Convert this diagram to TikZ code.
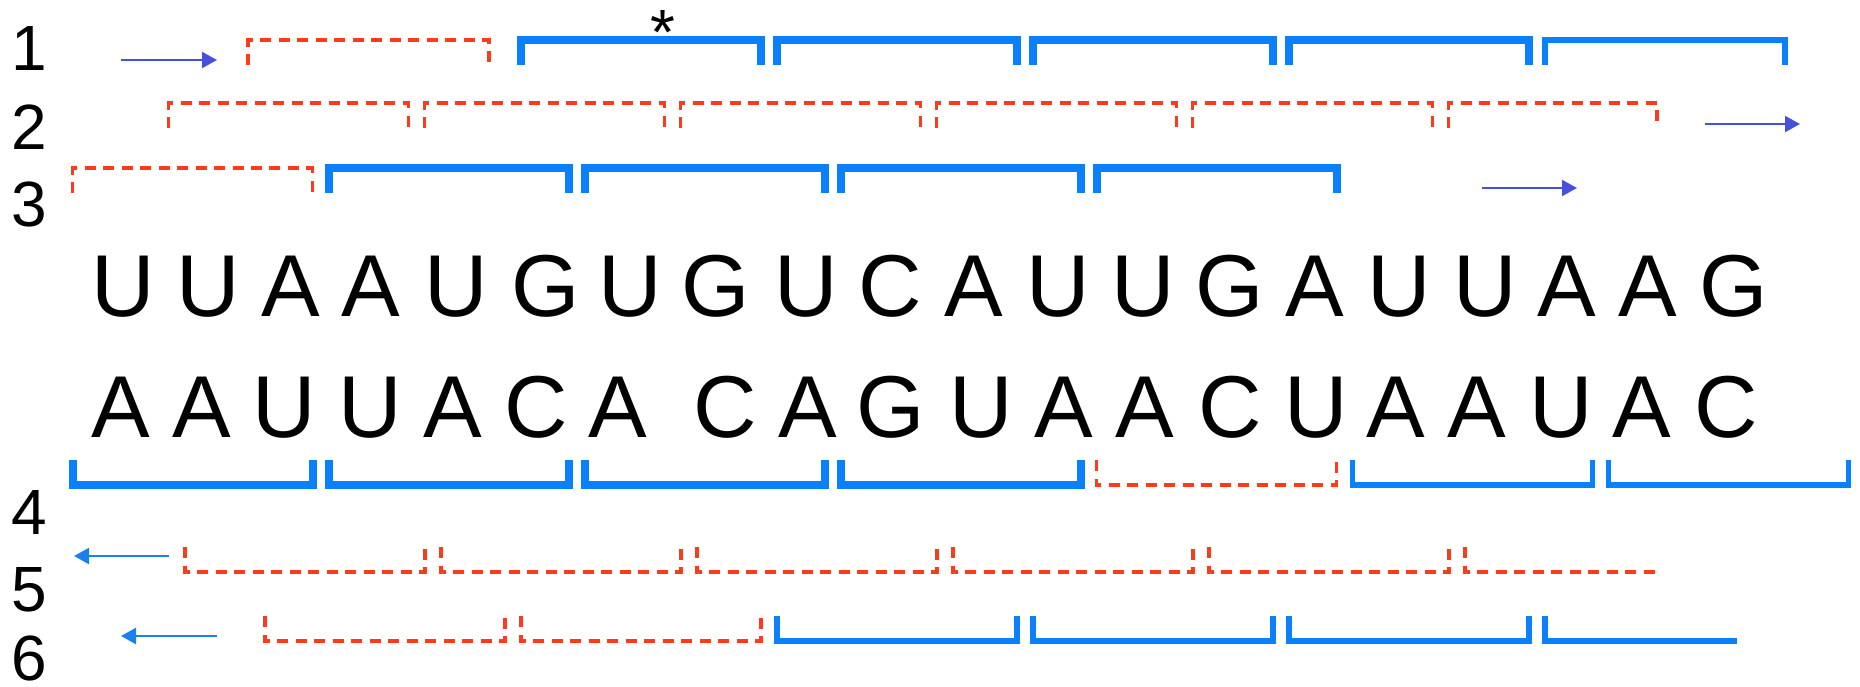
\documentclass[tikz,border=0pt]{standalone}
\usepackage{fontspec}
\setmainfont{Liberation Sans}
\usetikzlibrary{arrows.meta}
\definecolor{codonblue}{HTML}{0A80FF}
\definecolor{stopred}{HTML}{FF3A1A}
\definecolor{arrowindigo}{HTML}{4750DA}
\definecolor{arrowblue}{HTML}{1A80EE}

\begin{document}
\begin{tikzpicture}[x=0.1mm, y=-0.1mm,
    nuc/.style={inner sep=0pt, anchor=base, font=\fontsize{25pt}{30pt}\selectfont},
    framelabel/.style={inner sep=0pt, anchor=base west, font=\fontsize{18.2pt}{22pt}\selectfont},
    openframe/.style={draw=codonblue, line width=0.8mm, line cap=butt, line join=miter},
    openframethin/.style={openframe, line width=0.58mm},
    stopframe/.style={draw=stopred, line width=0.32mm, dash pattern=on 1.1mm off 0.75mm},
    fwd/.style={-{Triangle[length=1.5mm,width=1.6mm]}, draw=arrowindigo, line width=0.22mm},
    rev/.style={-{Triangle[length=1.5mm,width=1.6mm]}, draw=arrowblue, line width=0.22mm}
]
\useasboundingbox (0,0) rectangle (1860,686);

% frame numbers
\node[framelabel] (f1) at (11,70) {1};
\node[framelabel] (f2) at (11,149) {2};
\node[framelabel] (f3) at (11,226) {3};
\node[framelabel] (f4) at (11,534) {4};
\node[framelabel] (f5) at (11,611) {5};
\node[framelabel] (f6) at (11,680) {6};

% the two strands
\foreach \x/\ch [count=\i from 0] in {123/U,208/U,291/A,371/A,456/U,546/G,630/U,716/G,806/U,890/C,
    974/A,1058/U,1143/U,1230/G,1315/A,1399/U,1485/U,1567/A,1648/A,1734/G}
    \node[nuc] (top\i) at (\x,316) {\ch};
\foreach \x/\ch [count=\i from 0] in {121/A,202/A,284/U,370/U,453/A,536/C,618/A,725/C,808/A,891/G,
    981/U,1064/A,1145/A,1230/C,1316/U,1396/A,1477/A,1561/U,1642/A,1726/C}
    \node[nuc] (bot\i) at (\x,437) {\ch};

\node[framelabel, anchor=base] (star) at (663,54) {*};

% frame 1
\draw[stopframe] (248,65) -- (248,40) -- (489,40) -- (489,65);
\foreach \s in {521,777,1033,1289}
    \draw[openframe] (\s,65) -- (\s,40) -- ({\s+240},40) -- ({\s+240},65);
\draw[openframethin] (1545,65) -- (1545,40) -- (1785,40) -- (1785,65);

% frame 2
\foreach \s in {168.5,424.5,680.5,936.5,1192.5}
    \draw[stopframe] (\s,128) -- (\s,103) -- ({\s+240},103) -- ({\s+240},128);
\draw[stopframe] (1448.5,128) -- (1448.5,103) -- (1657,103) -- (1657,128);

% frame 3
\draw[stopframe] (72.5,193) -- (72.5,168) -- (312.5,168) -- (312.5,193);
\foreach \s in {328.5,584.5,840.5,1096.5}
    \draw[openframe] (\s,193) -- (\s,168) -- ({\s+240},168) -- ({\s+240},193);

% frame 4
\foreach \s in {72.5,328.5,584.5,840.5}
    \draw[openframe] (\s,460) -- (\s,485) -- ({\s+240},485) -- ({\s+240},460);
\draw[stopframe] (1096.5,460) -- (1096.5,485) -- (1336.5,485) -- (1336.5,460);
\foreach \s in {1352.5,1608.5}
    \draw[openframethin] (\s,460) -- (\s,485) -- ({\s+240},485) -- ({\s+240},460);

% frame 5
\foreach \s in {185,441,697,953,1209}
    \draw[stopframe] (\s,547) -- (\s,572) -- ({\s+240},572) -- ({\s+240},547);
\draw[stopframe] (1465,547) -- (1465,572) -- (1655,572);

% frame 6
\foreach \s in {265,521}
    \draw[stopframe] (\s,616) -- (\s,641) -- ({\s+240},641) -- ({\s+240},616);
\foreach \s in {777,1033,1289}
    \draw[openframethin] (\s,616) -- (\s,641) -- ({\s+240},641) -- ({\s+240},616);
\draw[openframethin] (1545,616) -- (1545,641) -- (1737,641);

% reading directions
\coordinate (d1a) at (121,60);   \coordinate (d1b) at (217,60);
\coordinate (d2a) at (1705,124); \coordinate (d2b) at (1800,124);
\coordinate (d3a) at (1482,188); \coordinate (d3b) at (1577,188);
\coordinate (d5a) at (169,556);  \coordinate (d5b) at (74,556);
\coordinate (d6a) at (217,636);  \coordinate (d6b) at (121,636);
\draw[fwd] (d1a) -- (d1b);
\draw[fwd] (d2a) -- (d2b);
\draw[fwd] (d3a) -- (d3b);
\draw[rev] (d5a) -- (d5b);
\draw[rev] (d6a) -- (d6b);

\end{tikzpicture}
\end{document}
